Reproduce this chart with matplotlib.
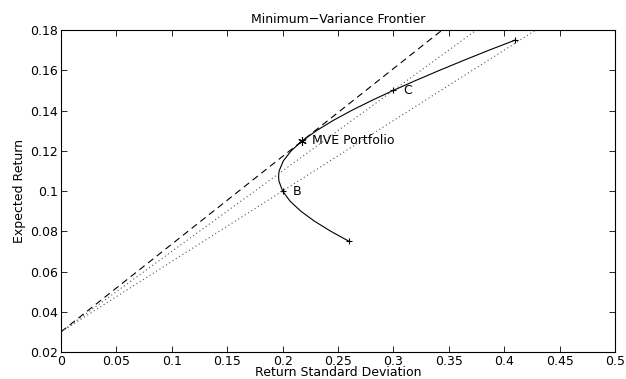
import matplotlib
matplotlib.use('Agg')
import matplotlib.pyplot as plt

plt.rcParams['font.family'] = ['DejaVu Sans']

# frontier points (expected return, std dev)
frontier_mu = [0.075, 0.080, 0.085, 0.090, 0.095, 0.100, 0.105, 0.1075, 0.110,
               0.115, 0.120, 0.125, 0.130, 0.135, 0.140, 0.145, 0.150, 0.155,
               0.160, 0.165, 0.170, 0.175]
frontier_sd = [0.260, 0.2435, 0.2288, 0.2164, 0.2067, 0.200, 0.1967, 0.1964, 0.1969,
               0.2007, 0.2078, 0.2179, 0.2306, 0.2455, 0.2622, 0.2805, 0.300, 0.3205,
               0.3418, 0.3638, 0.3864, 0.410]

# marked portfolios
pt_sd = [0.26, 0.20, 0.30, 0.41]
pt_mu = [0.075, 0.10, 0.15, 0.175]
mve_sd, mve_mu = 0.2179, 0.125
rf = 0.03

labels = {'B': (0.20, 0.10), 'C': (0.30, 0.15), 'MVE Portfolio': (mve_sd, mve_mu)}

fig = plt.figure(figsize=(6.26, 3.79), dpi=100)
ax = fig.add_axes([0.0974, 0.0712, 0.885, 0.8496])

ax.plot(frontier_sd, frontier_mu, color='k', lw=0.8)
ax.plot(pt_sd, pt_mu, ls='none', marker='+', ms=5, mew=0.8, color='k')
ax.plot([mve_sd], [mve_mu], ls='none', marker=(6, 2, 0), ms=6, mew=0.8, color='k')

# capital allocation lines from the risk-free rate
x_end = 0.5
for sd, mu, style, col in [(mve_sd, mve_mu, (0, (6, 4)), 'k'),
                           (0.20, 0.10, (0, (1, 2.5)), '#555555'),
                           (0.30, 0.15, (0, (1, 2.5)), '#555555')]:
    slope = (mu - rf) / sd
    ax.plot([0, x_end], [rf, rf + slope * x_end], ls=style, color=col, lw=0.8)

for txt, (x, y) in labels.items():
    ax.text(x + 0.009, y, txt, fontsize=9, va='center', ha='left')

ax.set_xlim(0, 0.5)
ax.set_ylim(0.02, 0.18)
ax.set_xticks([0, 0.05, 0.1, 0.15, 0.2, 0.25, 0.3, 0.35, 0.4, 0.45, 0.5])
ax.set_xticklabels(['0', '0.05', '0.1', '0.15', '0.2', '0.25', '0.3', '0.35', '0.4', '0.45', '0.5'])
ax.set_yticks([0.02, 0.04, 0.06, 0.08, 0.1, 0.12, 0.14, 0.16, 0.18])
ax.set_yticklabels(['0.02', '0.04', '0.06', '0.08', '0.1', '0.12', '0.14', '0.16', '0.18'])
ax.tick_params(direction='in', top=True, right=True, length=4, width=0.6, labelsize=9, pad=2)
for s in ax.spines.values():
    s.set_linewidth(0.8)

ax.set_title('Minimum\u2212Variance Frontier', fontsize=9, pad=5)
ax.set_xlabel('Return Standard Deviation', fontsize=9, labelpad=-1)
ax.set_ylabel('Expected Return', fontsize=9, labelpad=3)

fig.savefig('out.png', dpi=100)
